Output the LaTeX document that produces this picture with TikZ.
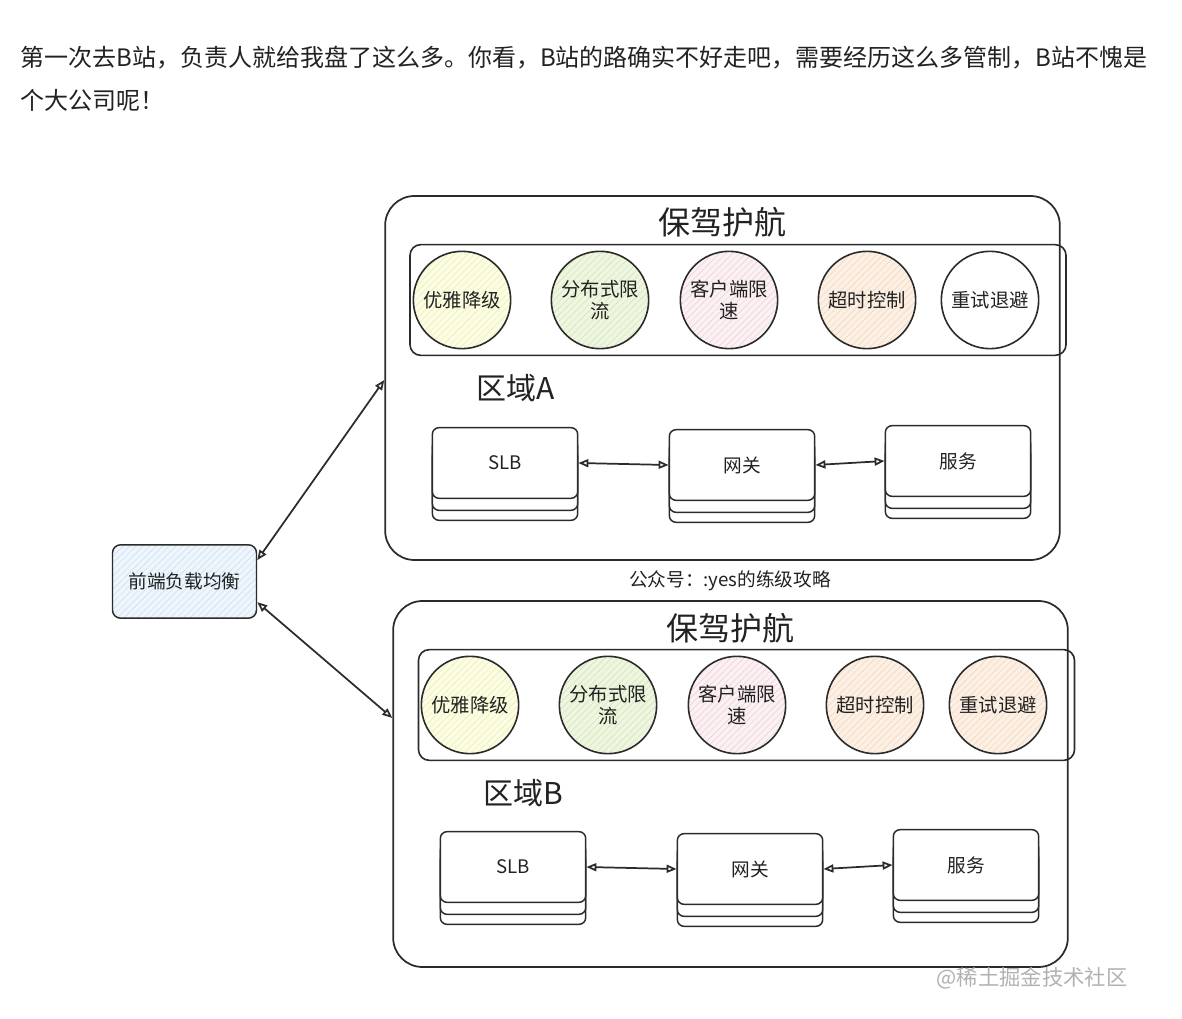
\documentclass[tikz,border=0pt]{standalone}
\usepackage{fontspec}
\setmainfont{Noto Sans CJK SC}
\usetikzlibrary{arrows.meta,patterns.meta}
\definecolor{ink}{HTML}{2B2B2B}
\definecolor{txt}{HTML}{222222}
\definecolor{yelF}{HTML}{FCFDE4}\definecolor{yelH}{HTML}{E9EDA6}
\definecolor{grnF}{HTML}{EEF6E1}\definecolor{grnH}{HTML}{CFE5AC}
\definecolor{pnkF}{HTML}{FBF1F3}\definecolor{pnkH}{HTML}{EECBD3}
\definecolor{pchF}{HTML}{FCF0E5}\definecolor{pchH}{HTML}{F1D3B6}
\definecolor{bluF}{HTML}{EEF5FC}\definecolor{bluH}{HTML}{C9DCEF}
\tikzset{
  region/.style={draw=ink,line width=1.3pt,rounded corners=22pt,minimum width=506pt},
  guard/.style={draw=ink,line width=1.2pt,rounded corners=8pt,minimum width=492pt,minimum height=83pt},
  badge/.style={circle,draw=ink,line width=1.2pt,minimum size=73pt,inner sep=0pt,align=center,
    font=\fontsize{14.5pt}{17pt}\selectfont,text=txt},
  hatch/.style 2 args={preaction={fill=#1},pattern={Lines[angle=45,distance=3.5pt,line width=0.35pt]},pattern color=#2},
  layer/.style={draw=ink,line width=1.1pt,fill=white,rounded corners=5pt,minimum width=109pt,minimum height=53pt},
  boxtext/.style={font=\fontsize{14pt}{17pt}\selectfont,text=txt},
  title/.style={font=\fontsize{24pt}{28pt}\selectfont,text=txt},
  zone/.style={font=\fontsize{22.5pt}{26pt}\selectfont,text=txt},
  link/.style={draw=ink,line width=1.3pt,{Triangle[open,length=7.5pt,width=6pt]}-{Triangle[open,length=7.5pt,width=6pt]}},
}
\newcommand{\stackbox}[3]{% name, position, text
  \node[layer,yshift=-16.5pt] (#1l2) at (#2) {};
  \node[layer,yshift=-9pt] (#1l1) at (#2) {};
  \node[layer,boxtext] (#1) at (#2) {#3};
}
\begin{document}
\begin{tikzpicture}[x=0.75pt,y=-0.75pt]
\useasboundingbox (0,0) rectangle (1182,1019);
\fill[white] (0,0) rectangle (1182,1019);

% paragraph
\node[anchor=west,inner sep=0pt,text=txt,font=\fontsize{18pt}{22pt}\selectfont] (p1) at (20,58)
  {第一次去B站，负责人就给我盘了这么多。你看，B站的路确实不好走吧，需要经历这么多管制，B站不愧是};
\node[anchor=west,inner sep=0pt,text=txt,font=\fontsize{18pt}{22pt}\selectfont] (p2) at (20,100)
  {个大公司呢！};

% ---------- Region A ----------
\node[region,minimum height=273pt] (regA) at (722.5,378) {};
\node[title] (tA) at (722,222) {保驾护航};
\node[guard] (gA) at (738,300) {};
\node[badge,hatch={yelF}{yelH}] (a1) at (462,300) {优雅降级};
\node[badge,hatch={grnF}{grnH}] (a2) at (600,300) {分布式限\\流};
\node[badge,hatch={pnkF}{pnkH}] (a3) at (729,300) {客户端限\\速};
\node[badge,hatch={pchF}{pchH}] (a4) at (867,300) {超时控制};
\node[badge,fill=white] (a5) at (990,300) {重试退避};
\node[zone] (zA) at (516,388) {区域A};
\stackbox{slbA}{505,463}{SLB}
\stackbox{gwA}{742,465}{网关}
\stackbox{svA}{958,461}{服务}
\draw[link] (slbA.east) -- (gwA.west);
\draw[link] (gwA.east) -- (svA.west);

% ---------- Region B ----------
\node[region,minimum height=274.5pt] (regB) at (730.5,784) {};
\node[title] (tB) at (730,628) {保驾护航};
\node[guard] (gB) at (746.5,705) {};
\node[badge,hatch={yelF}{yelH}] (b1) at (470,705) {优雅降级};
\node[badge,hatch={grnF}{grnH}] (b2) at (608,705) {分布式限\\流};
\node[badge,hatch={pnkF}{pnkH}] (b3) at (737,705) {客户端限\\速};
\node[badge,hatch={pchF}{pchH}] (b4) at (875,705) {超时控制};
\node[badge,hatch={pchF}{pchH}] (b5) at (998,705) {重试退避};
\node[zone] (zB) at (523,793) {区域B};
\stackbox{slbB}{513,867}{SLB}
\stackbox{gwB}{750,869}{网关}
\stackbox{svB}{966,865}{服务}
\draw[link] (slbB.east) -- (gwB.west);
\draw[link] (gwB.east) -- (svB.west);

% ---------- front-end LB ----------
\node[draw=ink,line width=1.1pt,rounded corners=6pt,minimum width=108pt,minimum height=55pt,
  hatch={bluF}{bluH},boxtext] (fe) at (184.5,581.5) {前端负载均衡};
\draw[link] ([yshift=16pt]fe.east) -- ([yshift=-1.5pt]regA.west);
\draw[link] ([yshift=-15.5pt]fe.east) -- ([yshift=49.5pt]regB.west);

% captions
\node[text=txt,font=\fontsize{14pt}{17pt}\selectfont] (wx) at (730,581) {公众号：:yes的练级攻略};
\node[text=black!30,font=\fontsize{16pt}{19pt}\selectfont] (wm) at (1032,978) {@稀土掘金技术社区};
\end{tikzpicture}
\end{document}
